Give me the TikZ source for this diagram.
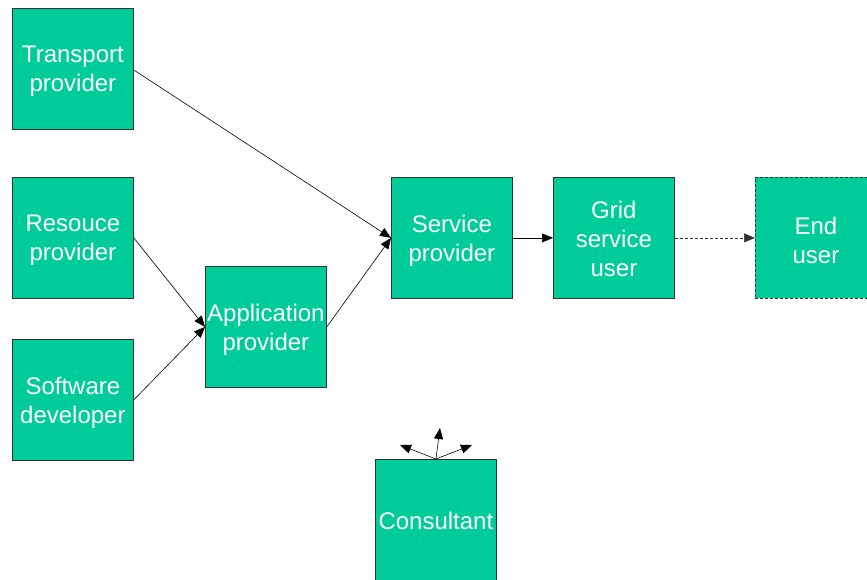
\documentclass[tikz,border=0pt]{standalone}
\usepackage{fontspec}
\setmainfont{Liberation Sans}
\usetikzlibrary{arrows.meta}
\definecolor{boxgreen}{HTML}{00CC99}
\definecolor{edgegray}{HTML}{333333}
\tikzset{
  gbox/.style={draw=edgegray, line width=0.8bp, fill=boxgreen, minimum width=121bp, minimum height=121bp, inner sep=0pt, anchor=north west},
  gtext/.style={text=white, align=center, inner sep=0pt, font=\fontsize{24bp}{29bp}\selectfont},
  conn/.style={draw=black, line width=0.6bp, -{Triangle[length=11bp,width=9bp]}},
}
\begin{document}
\begin{tikzpicture}[x=1bp,y=-1bp]
\useasboundingbox (0,0) rectangle (867,580);
\begin{scope}
\clip (0,0) rectangle (867,580);
\node[gbox] (tp) at (12,8) {};
\node[gbox] (rp) at (12,177) {};
\node[gbox] (sd) at (12,339) {};
\node[gbox] (ap) at (205,266) {};
\node[gbox] (sp) at (391,177) {};
\node[gbox] (gu) at (553,177) {};
\node[gbox, dashed, dash pattern=on 3bp off 2bp] (eu) at (755,177) {};
\node[gbox] (cs) at (375,459) {};
\node[gtext] (tpt) at ([yshift=-2.5bp]tp.center) {Transport\\provider};
\node[gtext] (rpt) at ([yshift=-2.5bp]rp.center) {Resouce\\provider};
\node[gtext] (sdt) at ([yshift=-2.5bp]sd.center) {Software\\developer};
\node[gtext] (apt) at ([yshift=-2.5bp]ap.center) {Application\\provider};
\node[gtext] (spt) at ([yshift=-2.5bp]sp.center) {Service\\provider};
\node[gtext] (gut) at ([yshift=-1.5bp]gu.center) {Grid\\service\\user};
\node[gtext] (eut) at ([yshift=-2.5bp]eu.center) {End\\user};
\node[gtext] (cst) at ([yshift=-1.5bp]cs.center) {Consultant};
\coordinate (c1) at (400,445);
\coordinate (c2) at (440,428);
\coordinate (c3) at (472,445);
\end{scope}
\draw[conn] (tp.east |- 0,70) -- (sp.west);
\draw[conn] (rp.east) -- (ap.west);
\draw[conn] (sd.east) -- (ap.west);
\draw[conn] (ap.east) -- (sp.west);
\draw[conn] (sp.east) -- (gu.west);
\draw[conn, dashed, dash pattern=on 3bp off 2bp, draw=edgegray] (gu.east) -- (eu.west);
\draw[conn] (cs.north) -- (c1);
\draw[conn] (cs.north) -- (c2);
\draw[conn] (cs.north) -- (c3);
\end{tikzpicture}
\end{document}
